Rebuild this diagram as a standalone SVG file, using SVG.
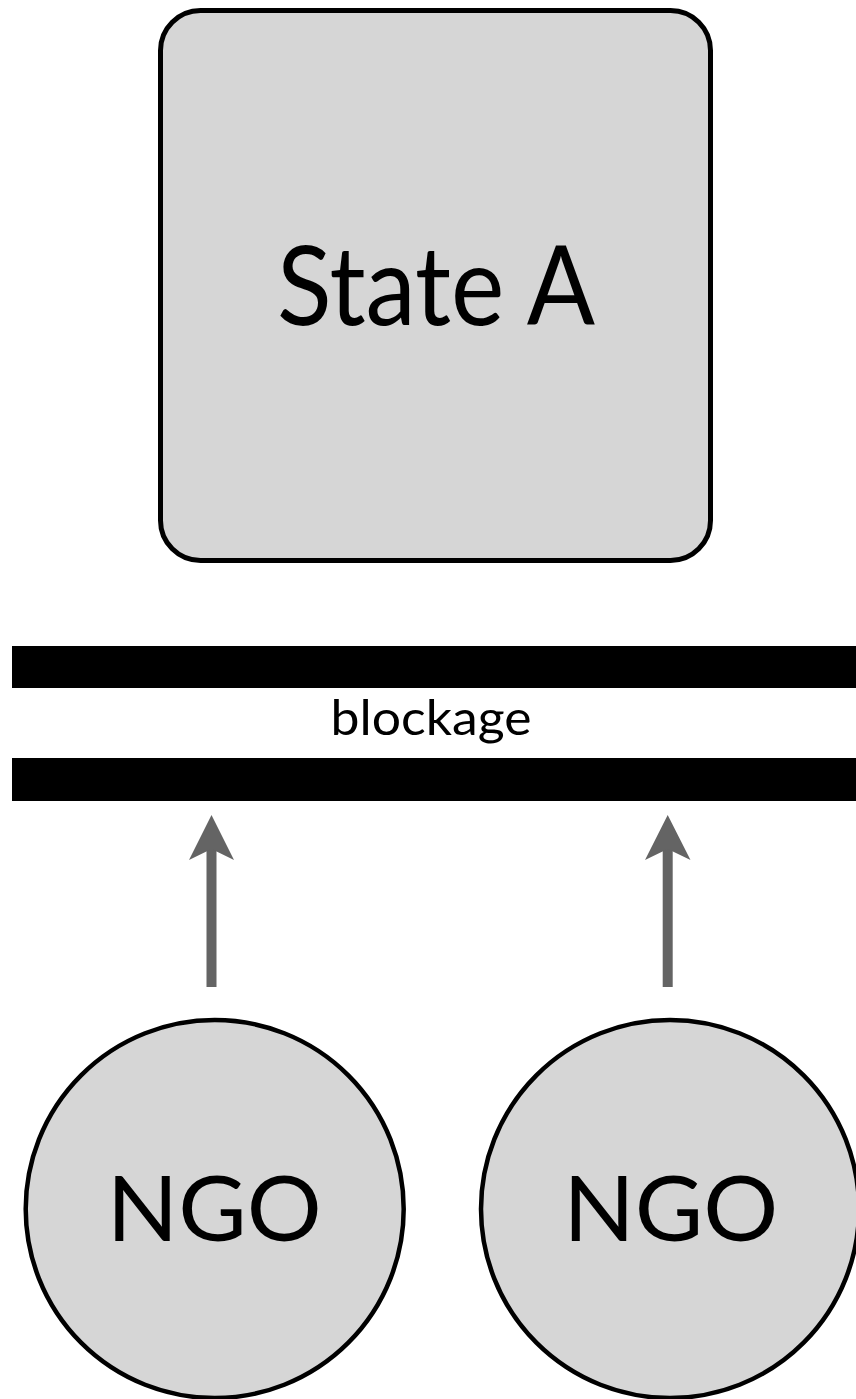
<svg xmlns="http://www.w3.org/2000/svg" width="856" height="1399" viewBox="0 0 856 1399">
  <defs>
    <style>
      .node { fill: #d6d6d6; stroke: #000; }
      .lbl { font-family: Lato, "Open Sans", "Liberation Sans", sans-serif; fill: #000; text-anchor: middle; }
      .bar { fill: #000; }
      .arrow { fill: #646464; }
    </style>
  </defs>
  <rect width="856" height="1399" fill="#fff"/>
  <g id="stateA">
    <rect class="node" x="160.5" y="10.5" width="550" height="550" rx="40" ry="40" stroke-width="5"/>
    <text class="lbl" x="436" y="325" font-size="111" textLength="318" lengthAdjust="spacingAndGlyphs">State A</text>
  </g>
  <g id="blockage">
    <rect class="bar" x="12" y="646" width="844" height="42"/>
    <rect class="bar" x="12" y="758" width="844" height="43"/>
    <text class="lbl" x="431" y="735" font-size="49" textLength="201" lengthAdjust="spacingAndGlyphs">blockage</text>
  </g>
  <g id="connectors">
    <g id="arrow1">
      <rect class="arrow" x="206.5" y="848" width="10" height="139"/>
      <path class="arrow" d="M211.5,815 L234,860 L211.5,849 L189,860 Z"/>
    </g>
    <g id="arrow2">
      <rect class="arrow" x="662.7" y="848" width="10" height="139"/>
      <path class="arrow" d="M667.7,815 L690.5,860 L667.7,849 L645,860 Z"/>
    </g>
  </g>
  <g id="ngo1">
    <circle class="node" cx="214.7" cy="1209" r="189" stroke-width="4.5"/>
    <text class="lbl" x="214.2" y="1241" font-size="92" textLength="215" lengthAdjust="spacingAndGlyphs">NGO</text>
  </g>
  <g id="ngo2">
    <circle class="node" cx="670" cy="1209" r="189" stroke-width="4.5"/>
    <text class="lbl" x="670.8" y="1241" font-size="92" textLength="215" lengthAdjust="spacingAndGlyphs">NGO</text>
  </g>
</svg>
